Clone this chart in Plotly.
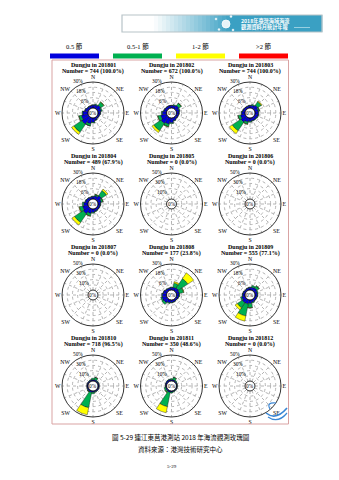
import math
import plotly.graph_objects as go

W, H = 339, 480

# ---------------- data ----------------
DIRS = ["N", "NNE", "NE", "ENE", "E", "ESE", "SE", "SSE",
        "S", "SSW", "SW", "WSW", "W", "WNW", "NW", "NNW"]
THETA = [i * 22.5 for i in range(len(DIRS))]
COMPASS_LABELS = ["N", "", "NE", "", "E", "", "SE", "", "S", "", "SW", "", "W", "", "NW", ""]

SPEED_CLASSES = ["0.5 節", "0.5-1 節", "1-2 節", ">2 節"]
SPEED_COLORS = ["#0000dd", "#00b050", "#ffff00", "#ff0000"]

MONTHS = ["201801", "201802", "201803", "201804", "201805", "201806",
          "201807", "201808", "201809", "201810", "201811", "201812"]
COUNTS = ["744 (100.0%)", "672 (100.0%)", "744 (100.0%)", "489 (67.9%)",
          "0 (0.0%)", "0 (0.0%)", "0 (0.0%)", "177 (23.8%)",
          "555 (77.1%)", "718 (96.5%)", "350 (48.6%)", "0 (0.0%)"]
RMAX = [30, 30, 30, 30, 50, 50, 50, 30, 30, 50, 50, 50]

Z = [0] * 16
# each month: [<0.5, 0.5-1, 1-2, >2] percent per direction (N .. NNW)
m201801 = [[3.5, 4, 5, 4, 3, 2, 2, 3, 5, 7, 10, 8, 6, 4, 3, 3],
           [0.3, 0.8, 4.5, 1.2, 0.3, 0.2, 0.2, 0.3, 0.8, 2.5, 11, 3, 0.8, 0.3, 0.2, 0.2],
           [0, 0, 0.3, 0, 0, 0, 0, 0, 0, 0.2, 3, 0.2, 0, 0, 0, 0],
           Z]
m201802 = [[3, 3.5, 4.5, 3.5, 3, 2.5, 2.5, 3.5, 5.5, 7.5, 9, 7, 5, 3.5, 3, 3],
           [0.2, 0.8, 3.5, 1, 0.3, 0.2, 0.3, 0.5, 1, 3, 10, 3.5, 0.8, 0.3, 0.2, 0.2],
           [0, 0, 0.2, 0, 0, 0, 0, 0, 0, 0.3, 2.5, 0.3, 0, 0, 0, 0],
           Z]
m201803 = [[3, 3.5, 5, 4, 4, 4, 3.5, 3.5, 4, 5, 7, 5.5, 4, 3, 2.5, 2.5],
           [0.3, 1, 5, 1.5, 0.5, 0.5, 0.5, 0.5, 1, 2.5, 12, 3, 0.5, 0.3, 0.2, 0.2],
           [0, 0, 1, 0.2, 0, 0, 0, 0, 0, 0.2, 4, 0.2, 0, 0, 0, 0],
           Z]
m201804 = [[3, 4, 6, 4, 3, 2.5, 2.5, 3, 4, 5.5, 8, 6.5, 5, 3.5, 3, 2.5],
           [0.5, 1.5, 7, 2, 0.5, 0.3, 0.3, 0.5, 1, 3, 12, 4, 1.5, 0.5, 0.3, 0.3],
           [0, 0.2, 2, 0.3, 0, 0, 0, 0, 0, 0.3, 3.5, 0.5, 0, 0, 0, 0],
           Z]
m201805 = [Z, Z, Z, Z]
m201806 = [Z, Z, Z, Z]
m201807 = [Z, Z, Z, Z]
m201808 = [[3, 3.5, 4, 3.5, 3, 2.5, 2, 2.5, 3, 3.5, 5, 5.5, 5, 4, 3, 2.5],
           [0.5, 5, 13, 5, 1, 0.3, 0.2, 0.3, 0.5, 1, 2.5, 1.5, 0.5, 0.3, 0.3, 0.3],
           [0, 1.5, 8, 0.5, 0, 0, 0, 0, 0, 0, 0, 0, 0, 0, 0, 0],
           Z]
m201809 = [[3, 3.5, 4, 3, 3, 2.5, 2.5, 3, 4, 5, 5, 4, 3, 2.5, 2, 2.5],
           [0.5, 2, 3, 1, 0.5, 0.3, 0.3, 1, 5, 14, 7, 1.5, 0.5, 0.3, 0.2, 0.3],
           [0, 0, 0.3, 0, 0, 0, 0, 0, 0.3, 6, 3, 0, 0, 0, 0, 0],
           Z]
m201810 = [[2.5, 2.5, 2.2, 2.2, 2.2, 2.2, 2.2, 2.2, 2.5, 3, 2.5, 2.2, 2.2, 2.2, 2.2, 2.2],
           [3, 5, 1, 0.5, 0.3, 0.3, 0.5, 1, 3, 30, 1.5, 0.3, 0.2, 0.2, 0.3, 1],
           [0, 0.3, 0, 0, 0, 0, 0, 0, 0, 14, 0.3, 0, 0, 0, 0, 0],
           Z]
m201811 = [[2.5, 2.5, 2, 1.5, 1.5, 1.5, 1.5, 1.5, 2, 3, 2.5, 2, 2, 2.5, 3, 3],
           [2, 5, 1.5, 0.5, 0.3, 0.3, 0.5, 1, 2, 28, 3, 3, 0.5, 0.3, 0.5, 1],
           [0, 0.3, 0, 0, 0, 0, 0, 0, 0, 12, 0.3, 0, 0, 0, 0, 0],
           Z]
m201812 = [Z, Z, Z, Z]

MONTH_DATA = [m201801, m201802, m201803, m201804, m201805, m201806,
              m201807, m201808, m201809, m201810, m201811, m201812]

STATION = "Dungju"
CAPTION1 = "圖 5-29 連江東莒港測站 2018 年海流觀測玫瑰圖"
CAPTION2 = "資料來源：港灣技術研究中心"
PAGE_NO = "5-29"
BANNER1 = "2018年臺灣海域海流"
BANNER2 = "觀測資料月統計年報"

# ---------------- layout helpers ----------------
SERIF = "Liberation Serif"
CJK = "Noto Sans CJK TC"
R = 31
HOLE = 0.16
CX0, DCX = 93, 78.5
CY0, DCY = 113, 91
GRID = "#b4b4b4"


def px(x):
    return x / W


def py(y):
    return 1 - y / H


def label(x, y, text, size, family=SERIF, color="black", xanchor="center", yanchor="middle"):
    return dict(x=px(x), y=py(y), xref="paper", yref="paper", text=text,
                showarrow=False, xanchor=xanchor, yanchor=yanchor,
                font=dict(family=family, size=size, color=color))


fig = go.Figure()
annotations = []
shapes = []
layout_polars = {}

for i, (month, count, rmax, data) in enumerate(zip(MONTHS, COUNTS, RMAX, MONTH_DATA)):
    row, col = divmod(i, 3)
    cx = CX0 + col * DCX
    cy = CY0 + row * DCY
    key = "polar" if i == 0 else f"polar{i + 1}"
    for name, color, vals in zip(SPEED_CLASSES, SPEED_COLORS, data):
        fig.add_trace(go.Barpolar(
            r=vals, theta=THETA, width=22.5, name=name,
            marker=dict(color=color, line=dict(color="#111111", width=0.4)),
            subplot=key, showlegend=False))
    step = rmax / 5
    tickvals = [step * k for k in range(6)]
    layout_polars[key] = dict(
        domain=dict(x=[px(cx - R), px(cx + R)], y=[py(cy + R), py(cy - R)]),
        hole=HOLE,
        bgcolor="white",
        barmode="stack",
        angularaxis=dict(
            rotation=90, direction="clockwise",
            tickmode="array", tickvals=THETA, ticktext=COMPASS_LABELS,
            showline=True, linecolor="black", linewidth=0.8,
            showgrid=True, gridcolor=GRID, griddash="dot", gridwidth=0.5,
            ticks="", tickfont=dict(family=SERIF, size=5.8, color="black")),
        radialaxis=dict(
            range=[0, rmax], tickmode="array", tickvals=tickvals,
            showticklabels=False, showline=False, ticks="",
            showgrid=True, gridcolor=GRID, griddash="dot", gridwidth=0.5),
    )
    annotations.append(label(cx, cy - 48.5, f"<b>{STATION} in {month}</b>", 6))
    annotations.append(label(cx, cy - 41.8, f"<b>Number = {count}</b>", 6))
    annotations.append(label(cx, cy, "0%", 5.3))
    # radial tick labels, placed along the NNW ray at the axis scale
    hole_px = HOLE * R
    for k in (1, 3, 5):
        v = step * k
        rr = hole_px + (R - hole_px) * v / rmax + 2
        ang = math.radians(345)
        annotations.append(label(cx + rr * math.sin(ang) + 1, cy - rr * math.cos(ang),
                                 f"{int(v)}%", 5.3, xanchor="right"))

# legend (labels above colour bars)
for j, (name, color) in enumerate(zip(SPEED_CLASSES, SPEED_COLORS)):
    x0 = 50 + j * 63
    shapes.append(dict(type="rect", xref="paper", yref="paper",
                       x0=px(x0), x1=px(x0 + 49), y0=py(58.5), y1=py(53.5),
                       fillcolor=color, line=dict(width=0)))
    annotations.append(label(x0 + 24.5, 46, name, 6.5, family=SERIF + ", " + CJK))

# frame around the rose grid
shapes.append(dict(type="rect", xref="paper", yref="paper",
                   x0=px(52), x1=px(288.5), y0=py(424), y1=py(60),
                   line=dict(color="#d9a3a3", width=1), fillcolor="rgba(0,0,0,0)"))

# header banner (gradient strip)
BX0, BX1, BY0, BY1 = 122, 322, 15, 32
NSTEP = 50
for k in range(NSTEP):
    t = k / (NSTEP - 1)
    f = min(max((t - 0.15) / 0.4, 0), 1)
    r_ = int(255 + (58 - 255) * f)
    g_ = int(255 + (160 - 255) * f)
    b_ = int(255 + (195 - 255) * f)
    xa = BX0 + (BX1 - BX0) * k / NSTEP
    xb = BX0 + (BX1 - BX0) * (k + 1) / NSTEP + 0.3
    shapes.append(dict(type="rect", xref="paper", yref="paper",
                       x0=px(xa), x1=px(xb), y0=py(BY1), y1=py(BY0),
                       fillcolor=f"rgb({r_},{g_},{b_})", line=dict(width=0)))
shapes.append(dict(type="rect", xref="paper", yref="paper",
                   x0=px(BX0), x1=px(BX1), y0=py(BY1), y1=py(BY0),
                   line=dict(color="#b8c4c8", width=1.2), fillcolor="rgba(0,0,0,0)"))
shapes.append(dict(type="circle", xref="paper", yref="paper",
                   x0=px(222), x1=px(230), y0=py(28), y1=py(20),
                   fillcolor="#e8f4f8", line=dict(color="white", width=0.8)))
for (dx, dy) in [(216, 19), (231, 16.5), (219, 29.5), (233, 30)]:
    shapes.append(dict(type="circle", xref="paper", yref="paper",
                       x0=px(dx - 1), x1=px(dx + 1), y0=py(dy + 1), y1=py(dy - 1),
                       fillcolor="white", line=dict(color="#dfeff4", width=0.5)))
annotations.append(label(239, 20.5, f"<b>{BANNER1}</b>", 5.2, family=CJK, color="white", xanchor="left"))
annotations.append(label(239, 27, f"<b>{BANNER2}</b>", 5.2, family=CJK, color="white", xanchor="left"))
shapes.append(dict(type="line", xref="paper", yref="paper",
                   x0=px(294), x1=px(310), y0=py(27.5), y1=py(27.5),
                   line=dict(color="#d6eef5", width=0.6)))


# small wave logo at the lower-right of the frame
def qpath(pts):
    (x0, y0), (xc, yc), (x1, y1) = pts
    return f"M{px(x0)},{py(y0)} Q{px(xc)},{py(yc)} {px(x1)},{py(y1)}"


for pts, wdt in [(((266, 413), (276, 421), (287, 408)), 1.6),
                 (((268, 417), (278, 424), (287, 413)), 1.2),
                 (((270, 409), (266, 402), (276, 403)), 1.2)]:
    shapes.append(dict(type="path", xref="paper", yref="paper", path=qpath(pts),
                       line=dict(color="#3a86d4", width=wdt)))

# captions
annotations.append(label(180, 437, CAPTION1, 6.5, family=CJK))
annotations.append(label(180, 449, CAPTION2, 6.5, family=CJK))
annotations.append(label(172, 466, PAGE_NO, 5))

fig.update_layout(width=W, height=H, margin=dict(l=0, r=0, t=0, b=0),
                  paper_bgcolor="white", plot_bgcolor="white",
                  annotations=annotations, shapes=shapes, **layout_polars)

fig.write_html("out.html")
